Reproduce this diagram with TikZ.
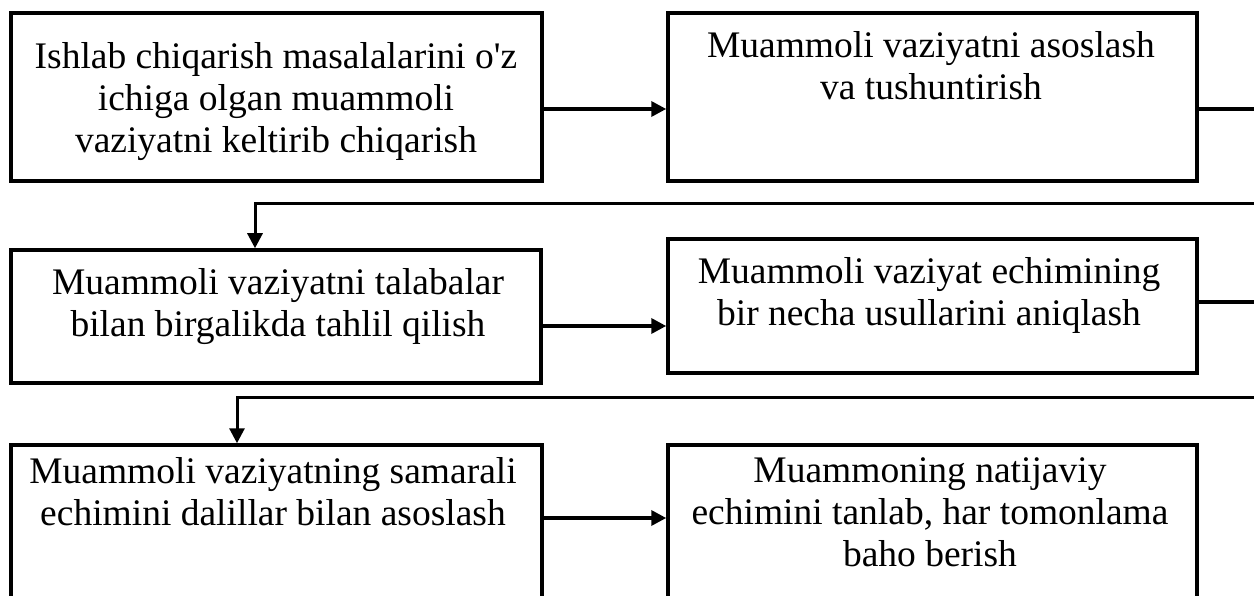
\documentclass[tikz,border=0pt]{standalone}
\usepackage{fontspec}
\setmainfont{Liberation Serif}
\usetikzlibrary{arrows.meta}
\tikzset{
  box/.style={draw=black, line width=3.5pt, rectangle, inner sep=0pt, outer sep=0pt, fill=none},
  txt/.style={anchor=north, inner sep=0pt, align=center, font=\fontsize{37.5}{42}\selectfont},
  arr/.style={line width=3.5pt, shorten >=1.75pt, -{Triangle[length=15pt,width=15pt]}},
  elb/.style={line width=3pt, shorten >=1.75pt, -{Triangle[length=15pt,width=15pt]}},
  lin/.style={line width=3.5pt}
}
\begin{document}
\begin{tikzpicture}[x=1pt,y=-1pt]
\useasboundingbox (0,0) rectangle (1254,596);
\clip (0,0) rectangle (1254,596);
% boxes
\node[box, anchor=north west, minimum width=531pt, minimum height=168pt] (b1) at (11,13) {};
\node[box, anchor=north west, minimum width=529pt, minimum height=168pt] (b2) at (668,13) {};
\node[box, anchor=north west, minimum width=530pt, minimum height=133pt] (b3) at (11,250) {};
\node[box, anchor=north west, minimum width=529pt, minimum height=134pt] (b4) at (668,239) {};
\node[box, anchor=north west, minimum width=531pt, minimum height=185pt] (b5) at (11,445) {};
\node[box, anchor=north west, minimum width=529pt, minimum height=185pt] (b6) at (668,445) {};
% texts
\node[txt] (t1) at (276,42) {Ishlab chiqarish masalalarini o\textquotesingle z\\ichiga olgan muammoli\\vaziyatni keltirib chiqarish};
\node[txt] (t2) at (931,31) {Muammoli vaziyatni asoslash\\va tushuntirish};
\node[txt] (t3) at (278,268) {Muammoli vaziyatni talabalar\\bilan birgalikda tahlil qilish};
\node[txt] (t4) at (929,257) {Muammoli vaziyat echimining\\bir necha usullarini aniqlash};
\node[txt] (t5) at (273,457) {Muammoli vaziyatning samarali\\echimini dalillar bilan asoslash};
\node[txt] (t6) at (930,457) {Muammoning natijaviy\\echimini tanlab, har tomonlama\\baho berish};
% arrow levels and free ends at the right edge
\coordinate (y1) at (0,109);
\coordinate (y3) at (0,326);
\coordinate (y5) at (0,518);
\coordinate (r1) at (1254,109);
\coordinate (r2) at (1254,204);
\coordinate (r3) at (1254,302);
\coordinate (r4) at (1254,397);
\coordinate (d3) at (255,0);
\coordinate (d5) at (237,0);
% connectors
\draw[arr] (b1.east |- y1) -- (b2.west |- y1);
\draw[lin] (b2.east |- r1) -- (r1);
\draw[elb] (r2) -| (d3 |- b3.north);
\draw[arr] (b3.east |- y3) -- (b4.west |- y3);
\draw[lin] (b4.east |- r3) -- (r3);
\draw[elb] (r4) -| (d5 |- b5.north);
\draw[arr] (b5.east |- y5) -- (b6.west |- y5);
\end{tikzpicture}
\end{document}
